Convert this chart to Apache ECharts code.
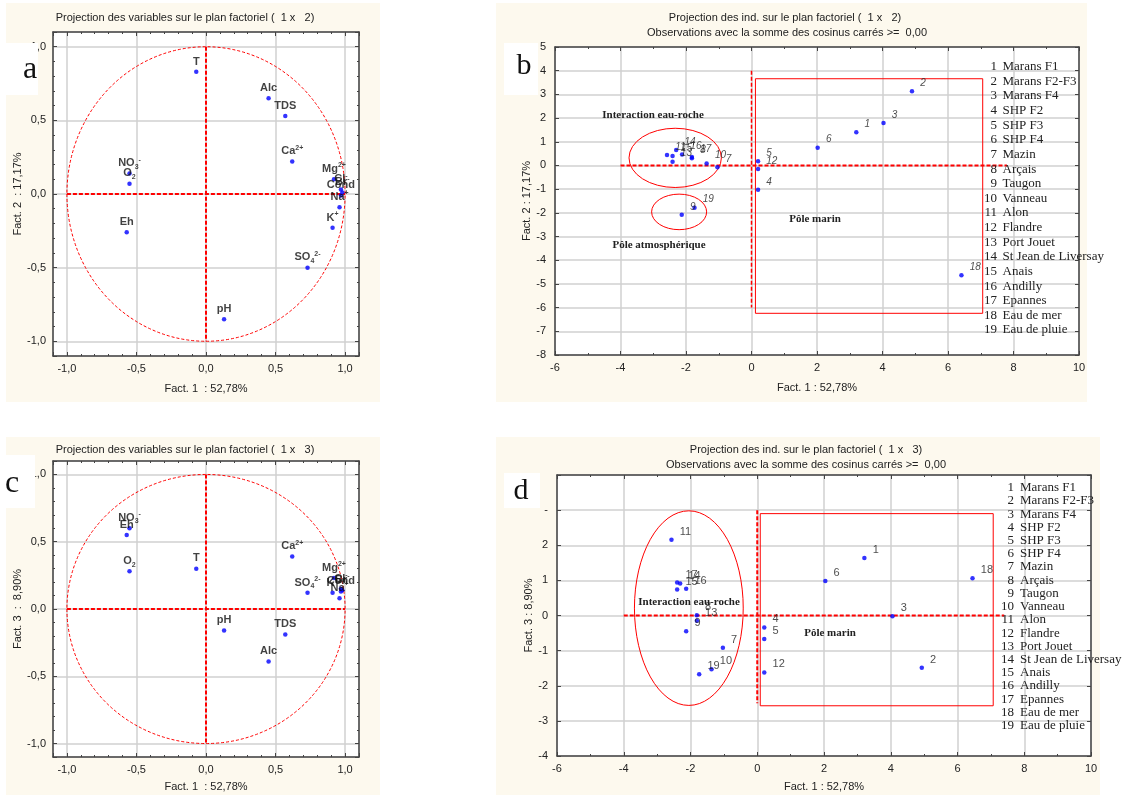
<!DOCTYPE html>
<html>
<head>
<meta charset="utf-8">
<script src="https://cdn.jsdelivr.net/npm/echarts@6/dist/echarts.min.js"></script>
<style>
html, body { margin: 0; padding: 0; background: #fff; }
#main { width: 1126px; height: 795px; }
</style>
</head>
<body>
<div id="main"></div>
<script>
// variables (panels a and c)
var varLabels = ['{b|T}', '{b|Alc}', '{b|TDS}', '{b|Ca}{sup|2+}', '{b|NO}{sub|3}{sup|-}', '{b|O}{sub|2}',
  '{b|Mg}{sup|2+}', '{b|Cl}{sup|-}', '{b|Br}{sup|-}', '{b|Cond}', '{b|Na}{sup|+}', '{b|K}{sup|+}',
  '{b|SO}{sub|4}{sup|2-}', '{b|Eh}', '{b|pH}'];
var varFact1 = [-0.07, 0.45, 0.57, 0.62, -0.55, -0.55, 0.92, 0.97, 0.98, 0.97, 0.96, 0.91, 0.73, -0.57, 0.13];
var varFact2 = [0.83, 0.65, 0.53, 0.22, 0.14, 0.07, 0.10, 0.03, 0.01, -0.01, -0.09, -0.23, -0.50, -0.26, -0.85];
var varFact3 = [0.30, -0.39, -0.19, 0.39, 0.60, 0.28, 0.23, 0.15, 0.14, 0.13, 0.08, 0.12, 0.12, 0.55, -0.16];

// individuals (panels b and d), ids 1..19
var stationNames = ['Marans F1', 'Marans F2-F3', 'Marans F4', 'SHP F2', 'SHP F3', 'SHP F4', 'Mazin', 'Arçais',
  'Taugon', 'Vanneau', 'Alon', 'Flandre', 'Port Jouet', 'St Jean de Liversay', 'Anais', 'Andilly', 'Epannes',
  'Eau de mer', 'Eau de pluie'];
var indFact1B = [3.20, 4.90, 4.03, 0.20, 0.20, 2.02, -1.04, -1.82, -2.13, -1.37, -2.58, 0.20, -2.41, -2.30, -2.41, -2.12, -1.82, 6.41, -1.74];
var indFact2B = [1.40, 3.13, 1.79, -1.03, 0.18, 0.75, -0.08, 0.30, -2.08, 0.08, 0.44, -0.15, 0.16, 0.65, 0.40, 0.46, 0.36, -4.63, -1.78];
var indFact1D = [3.21, 4.93, 4.05, 0.21, 0.21, 2.04, -1.03, -1.81, -2.13, -1.37, -2.57, 0.21, -1.81, -2.31, -2.40, -2.13, -2.40, 6.45, -1.74];
var indFact3D = [1.64, -1.49, -0.02, -0.34, -0.67, 0.98, -0.92, 0.01, -0.45, -1.53, 2.16, -1.62, -0.15, 0.91, 0.74, 0.76, 0.94, 1.06, -1.67];

// annotations: ellipses [cx, cy, rx, ry], rects [x0, y0, x1, y1]
var ellipsesB = [[-2.33, 0.32, 1.41, 1.25], [-2.21, -1.96, 0.84, 0.75]];
var rectsB = [[0.12, 3.66, 7.06, -6.24]];
var ellipsesD = [[-2.05, 0.21, 1.63, 2.77]];
var rectsD = [[0.09, 2.90, 7.07, -2.57]];

var SANS = 'Liberation Sans';
var SERIF = 'Liberation Serif';
var chart = echarts.init(document.getElementById('main'));

var option = { animation: false, grid: [], xAxis: [], yAxis: [], series: [], graphic: [] };

function comma (v) { return v.toFixed(1).replace('.', ','); }

function makeAxis (a, gi, pos, main) {
  return {
    gridIndex: gi, type: 'value', position: pos, min: a.min, max: a.max,
    interval: a.interval, splitNumber: a.splitNumber,
    name: main ? a.name : '', nameLocation: 'middle', nameGap: a.nameGap,
    nameTextStyle: { color: '#222', fontSize: 11, fontFamily: SANS },
    axisLine: { show: true, onZero: false, lineStyle: { color: '#444', width: 1.5 } },
    axisTick: { show: true, inside: true, length: 4, lineStyle: { color: '#444' } },
    minorTick: { show: !!a.minor, splitNumber: a.minor || 5, length: 2, lineStyle: { color: '#444' } },
    axisLabel: {
      show: main, color: '#222', fontSize: 11, fontFamily: SANS, margin: a.margin || 7,
      formatter: a.fmt, showMinLabel: a.showEnds, showMaxLabel: a.showEnds
    },
    splitLine: { show: main, lineStyle: { color: '#d0d0d0', width: 1.5 } }
  };
}

function ellipseItem (params, api) {
  var c = api.coord([api.value(0), api.value(1)]);
  var s = api.size([api.value(2), api.value(3)]);
  var rx = s[0], ry = s[1];
  var p = 'M' + (c[0] - rx) + ' ' + c[1] +
    ' A' + rx + ' ' + ry + ' 0 1 0 ' + (c[0] + rx) + ' ' + c[1] +
    ' A' + rx + ' ' + ry + ' 0 1 0 ' + (c[0] - rx) + ' ' + c[1] + ' Z';
  return { type: 'path', shape: { pathData: p }, style: { fill: 'none', stroke: '#f00', lineWidth: 1, lineDash: params.seriesName === 'dash' ? [3, 2] : null } };
}

function rectItem (params, api) {
  var p0 = api.coord([api.value(0), api.value(1)]);
  var p1 = api.coord([api.value(2), api.value(3)]);
  return { type: 'rect', shape: { x: p0[0], y: p0[1], width: p1[0] - p0[0], height: p1[1] - p0[1] }, style: { fill: 'none', stroke: '#f00', lineWidth: 1 } };
}

function addPanel (p) {
  var gi = option.grid.length;
  var xi = option.xAxis.length, yi = option.yAxis.length;
  option.grid.push({ left: p.left, top: p.top, width: p.width, height: p.height, show: true, backgroundColor: '#fff', borderWidth: 0 });
  option.xAxis.push(makeAxis(p.x, gi, 'bottom', true), makeAxis(p.x, gi, 'top', false));
  option.yAxis.push(makeAxis(p.y, gi, 'left', true), makeAxis(p.y, gi, 'right', false));
  (p.lines || []).forEach(function (l) {
    option.series.push({ type: 'line', xAxisIndex: xi, yAxisIndex: yi, data: l.data, symbol: 'none', silent: true, z: 3,
      lineStyle: { color: '#f00', width: l.width || 2, type: [4, 2] } });
  });
  if (p.ellipses) {
    option.series.push({ type: 'custom', name: p.ellipseDash ? 'dash' : 'solid', xAxisIndex: xi, yAxisIndex: yi, data: p.ellipses, renderItem: ellipseItem, silent: true, z: 3 });
  }
  if (p.rects) {
    option.series.push({ type: 'custom', xAxisIndex: xi, yAxisIndex: yi, data: p.rects, renderItem: rectItem, silent: true, z: 3 });
  }
  var pts = p.xs.map(function (v, i) { return [v, p.ys[i]]; });
  option.series.push({
    type: 'scatter', xAxisIndex: xi, yAxisIndex: yi, data: pts, symbolSize: 4.5, z: 5,
    itemStyle: { color: '#0000ff' },
    label: p.label
  });
}

var varLabel = {
  show: true, position: 'top', distance: 1,
  formatter: function (q) { return varLabels[q.dataIndex]; },
  rich: {
    b: { fontWeight: 'bold', fontSize: 11, fontFamily: SANS, color: '#111', lineHeight: 14 },
    sup: { fontWeight: 'bold', fontSize: 7, fontFamily: SANS, color: '#111', lineHeight: 8, verticalAlign: 'top' },
    sub: { fontWeight: 'bold', fontSize: 7, fontFamily: SANS, color: '#111', lineHeight: 8, verticalAlign: 'bottom' }
  }
};

function idLabel (italic, size) {
  return {
    show: true, position: 'right', distance: 5, offset: [1, -8],
    formatter: function (q) { return String(q.dataIndex + 1); },
    color: '#222', fontSize: size, fontFamily: SANS, fontStyle: italic ? 'italic' : 'normal'
  };
}

var unitAxis = { min: -1.1, max: 1.1, splitNumber: 4, minor: 5, fmt: comma, showEnds: false };

// a
addPanel({
  left: 53, top: 32, width: 306, height: 324,
  x: Object.assign({}, unitAxis, { name: 'Fact. 1  : 52,78%', nameGap: 27 }),
  y: Object.assign({}, unitAxis, { name: 'Fact. 2  : 17,17%', nameGap: 29 }),
  lines: [{ data: [[-1, 0], [1, 0]] }, { data: [[0, 1], [0, -1]] }],
  ellipses: [[0, 0, 1, 1]], ellipseDash: true,
  xs: varFact1, ys: varFact2, label: varLabel
});
// b
addPanel({
  left: 555, top: 47, width: 524, height: 308,
  x: { min: -6, max: 10, interval: 2, minor: 2, name: 'Fact. 1 : 52,78%', nameGap: 27, showEnds: true },
  y: { min: -8, max: 5, interval: 1, name: 'Fact. 2 : 17,17%', nameGap: 20, margin: 9, showEnds: true },
  lines: [{ data: [[-4, 0], [7.8, 0]] }, { data: [[0, 4], [0, -6]], width: 1.5 }],
  ellipses: ellipsesB, rects: rectsB,
  xs: indFact1B, ys: indFact2B, label: idLabel(true, 10)
});
// c
addPanel({
  left: 53, top: 461, width: 306, height: 296,
  x: Object.assign({}, unitAxis, { name: 'Fact. 1  : 52,78%', nameGap: 24 }),
  y: Object.assign({}, unitAxis, { name: 'Fact. 3  :  8,90%', nameGap: 29 }),
  lines: [{ data: [[-1, 0], [1, 0]] }, { data: [[0, 1], [0, -1]] }],
  ellipses: [[0, 0, 1, 1]], ellipseDash: true,
  xs: varFact1, ys: varFact3, label: varLabel
});
// d
addPanel({
  left: 557, top: 475, width: 534, height: 281,
  x: { min: -6, max: 10, interval: 2, minor: 2, name: 'Fact. 1 : 52,78%', nameGap: 25, showEnds: true },
  y: { min: -4, max: 4, interval: 1, name: 'Fact. 3 : 8,90%', nameGap: 20, margin: 9, showEnds: true,
    fmt: function (v) { return v > 3 ? '' : (v === 3 ? '-' : String(v)); } },
  lines: [{ data: [[-4, 0], [7.4, 0]] }, { data: [[0, 3], [0, -2.5]] }],
  ellipses: ellipsesD, rects: rectsD,
  xs: indFact1D, ys: indFact3D, label: idLabel(false, 11)
});

function txt (x, y, text, font, align, extra, z) {
  var s = { text: text, font: font, fill: '#222', textAlign: align || 'center', textVerticalAlign: 'middle' };
  if (extra) Object.assign(s, extra);
  return { type: 'text', x: x, y: y, z: z || 50, style: s };
}
function box (x, y, w, h, fill, z) {
  return { type: 'rect', shape: { x: x, y: y, width: w, height: h }, style: { fill: fill }, z: z };
}

var cream = '#fdf9ee';
var letterStyle = { fill: '#111' };
option.graphic = [
  box(6, 3, 374, 399, cream, -10),
  box(496, 3, 591, 399, cream, -10),
  box(6, 437, 374, 358, cream, -10),
  box(496, 437, 604, 358, cream, -10),
  // panel letters
  box(6, 43, 32, 52, '#fff', 60), txt(30, 70, 'a', '32px ' + SERIF, 'center', letterStyle, 61),
  box(504, 43, 34, 52, '#fff', 60), txt(524, 66, 'b', '30px ' + SERIF, 'center', letterStyle, 61),
  box(6, 455, 29, 53, '#fff', 60), txt(12, 484, 'c', '32px ' + SERIF, 'center', letterStyle, 61),
  box(504, 473, 36, 35, '#fff', 60), txt(521, 491, 'd', '30px ' + SERIF, 'center', letterStyle, 61),
  // titles
  txt(185, 18, 'Projection des variables sur le plan factoriel (  1 x   2)', '11px ' + SANS),
  txt(785, 18, 'Projection des ind. sur le plan factoriel (  1 x   2)', '11px ' + SANS),
  txt(787, 33, 'Observations avec la somme des cosinus carrés >=  0,00', '11px ' + SANS),
  txt(185, 450, 'Projection des variables sur le plan factoriel (  1 x   3)', '11px ' + SANS),
  txt(806, 450, 'Projection des ind. sur le plan factoriel (  1 x   3)', '11px ' + SANS),
  txt(806, 465, 'Observations avec la somme des cosinus carrés >=  0,00', '11px ' + SANS),
  // annotations
  txt(653, 115, 'Interaction eau-roche', 'bold 11px ' + SERIF),
  txt(659, 245, 'Pôle atmosphérique', 'bold 11px ' + SERIF),
  txt(815, 219, 'Pôle marin', 'bold 11px ' + SERIF),
  txt(689, 602, 'Interaction eau-roche', 'bold 11px ' + SERIF),
  txt(830, 633, 'Pôle marin', 'bold 11px ' + SERIF)
];

function legendCols (xNum, xName, top, lh) {
  var nums = stationNames.map(function (n, i) { return String(i + 1); }).join('\n');
  option.graphic.push(
    { type: 'text', x: xNum, y: top, z: 50, style: { text: nums, font: '13px ' + SERIF, fill: '#222', textAlign: 'right', textVerticalAlign: 'top', lineHeight: lh } },
    { type: 'text', x: xName, y: top, z: 50, style: { text: stationNames.join('\n'), font: '13px ' + SERIF, fill: '#222', textAlign: 'left', textVerticalAlign: 'top', lineHeight: lh } }
  );
}
legendCols(997, 1002.5, 59.4, 14.63);
legendCols(1014, 1020, 481.1, 13.22);

chart.setOption(option, true);
</script>
</body>
</html>
